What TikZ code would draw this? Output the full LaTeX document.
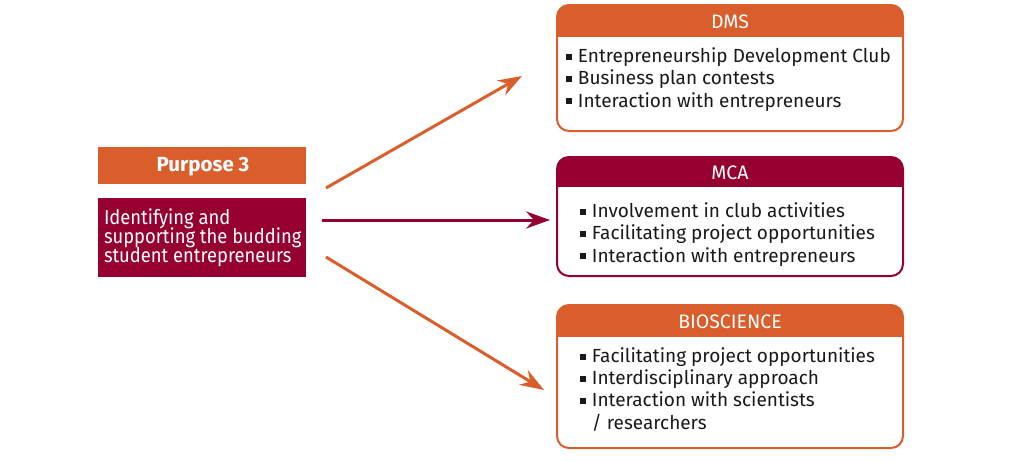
\documentclass[tikz,border=0pt]{standalone}
\usepackage{fontspec}
\setmainfont{Fira Sans}
\newfontfamily\condf[FakeStretch=0.91]{Fira Sans}
\usetikzlibrary{arrows.meta}
\definecolor{orng}{RGB}{217,94,43}
\definecolor{mrn}{RGB}{150,0,48}
\definecolor{ink}{RGB}{25,25,25}
\newcommand{\bul}{\rule[0.15em]{0.3em}{0.3em}\hspace{0.33em}}
\newcommand{\nobul}{\phantom{\rule{0.3em}{0.3em}}\hspace{0.33em}}
\begin{document}
\lineskiplimit=-100pt
\begin{tikzpicture}[x=1pt,y=-1pt,
  every node/.style={inner sep=0pt, outer sep=0pt},
  conn/.style={line width=3pt, -{Stealth[length=24pt,width=17pt,inset=8pt]}},
  cardline/.style={line width=2pt, rounded corners=12pt},
  headtxt/.style={text=white, anchor=base, font=\fontsize{19.5}{22}\selectfont},
  items/.style={text=ink, align=left, anchor=base west, font=\fontsize{19}{22.2}\selectfont},
  lbox/.style={anchor=north west, minimum width=208pt}]
\useasboundingbox (0,0) rectangle (1024,461);
% left boxes
\node[lbox, fill=orng, minimum height=37pt] (purp) at (98,147) {};
\node[text=white, anchor=base, font=\fontsize{20.5}{22}\selectfont\bfseries] (purpt) at (203,171) {Purpose 3};
\node[lbox, fill=mrn, minimum height=79pt] (desc) at (98,198) {};
\node[text=white, anchor=base west, align=left, font=\condf\fontsize{20.2}{18.6}\selectfont] (desct) at (104,262) {Identifying and\\supporting the budding\\student entrepreneurs};
% DMS card
\coordinate (dmsnw) at (557,5); \coordinate (dmsse) at (903,131);
\begin{scope}
\clip[rounded corners=12pt] (dmsnw) rectangle (dmsse);
\fill[orng] (dmsnw) rectangle (903,37);
\end{scope}
\draw[cardline, orng] (dmsnw) rectangle (dmsse);
\node[headtxt] (dmsh) at (730,28) {DMS};
\node[items] (dmsi) at (566,107) {\bul Entrepreneurship Development Club\\ \bul Business plan contests\\ \bul Interaction with entrepreneurs};
% MCA card
\coordinate (mcanw) at (557,157); \coordinate (mcase) at (903,276);
\begin{scope}
\clip[rounded corners=12pt] (mcanw) rectangle (mcase);
\fill[mrn] (mcanw) rectangle (903,187);
\end{scope}
\draw[cardline, mrn] (mcanw) rectangle (mcase);
\node[headtxt] (mcah) at (730,179) {MCA};
\node[items] (mcai) at (580,262) {\bul Involvement in club activities\\ \bul Facilitating project opportunities\\ \bul Interaction with entrepreneurs};
% BIO card
\coordinate (bionw) at (557,305); \coordinate (biose) at (903,448);
\begin{scope}
\clip[rounded corners=12pt] (bionw) rectangle (biose);
\fill[orng] (bionw) rectangle (903,337);
\end{scope}
\draw[cardline, orng] (bionw) rectangle (biose);
\node[headtxt] (bioh) at (730,328) {BIOSCIENCE};
\node[items] (bioi) at (580,429) {\bul Facilitating project opportunities\\ \bul Interdisciplinary approach\\ \bul Interaction with scientists\\ \nobul / researchers};
% connectors
\coordinate (s1) at (326,188); \coordinate (e1) at (522,76);
\coordinate (s2) at (322,220); \coordinate (e2) at (550,220);
\coordinate (s3) at (326,257); \coordinate (e3) at (544,390);
\draw[conn, orng] (s1) -- (e1);
\draw[conn, mrn] (s2) -- (e2);
\draw[conn, orng] (s3) -- (e3);
\end{tikzpicture}
\end{document}
